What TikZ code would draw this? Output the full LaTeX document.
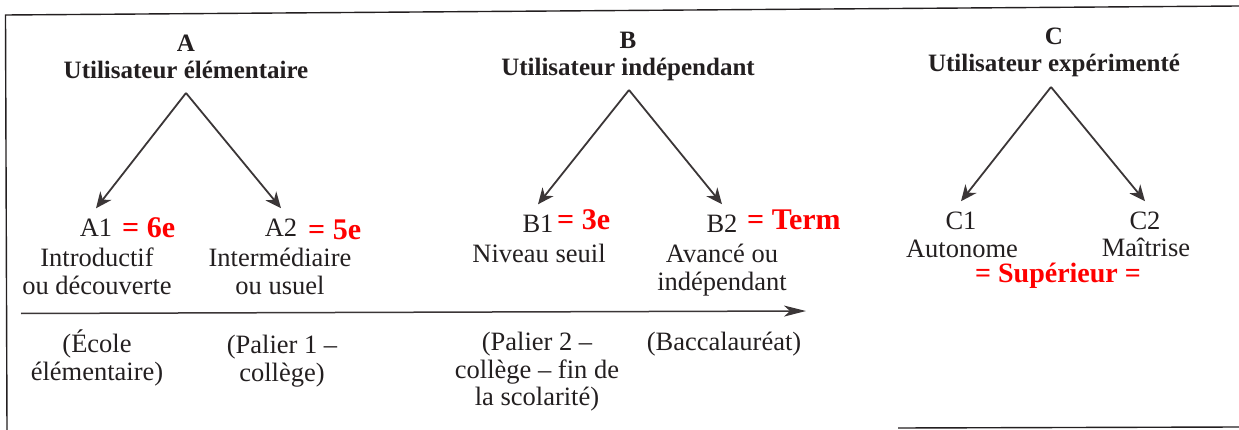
\documentclass[tikz,border=0pt]{standalone}
\usepackage{fontspec}
\setmainfont{Liberation Serif}
\usepackage{tikz}
\usetikzlibrary{arrows.meta}
\definecolor{ink}{HTML}{231F20}
\definecolor{stroke}{HTML}{3B3637}
\definecolor{hot}{HTML}{FF0000}
\tikzset{
  title/.style={font=\fontsize{25}{27}\selectfont\bfseries, text=ink, align=center, inner sep=0pt},
  tier/.style={font=\fontsize{26.5}{28}\selectfont, text=ink, inner sep=11pt},
  desc/.style={font=\fontsize{26.5}{27.5}\selectfont, text=ink, align=center, inner sep=0pt},
  grade/.style={font=\fontsize{30}{32}\selectfont\bfseries, text=hot, inner sep=0pt},
  branch/.style={-{Stealth[length=16pt,width=14pt,inset=5pt]}, line width=1.8pt, draw=stroke},
  timeline/.style={-{Stealth[length=22pt,width=11pt,inset=6pt]}, line width=1.5pt, draw=stroke},
  boxline/.style={draw=ink, line width=1.4pt}
}

\begin{document}
\begin{tikzpicture}[x=1pt,y=-1pt]
  \useasboundingbox (0,0) rectangle (1239,430);
  % frame
  \draw[boxline] (1239,6) -- (5.5,15) -- (7,430);
  \draw[boxline] (898,428) -- (1239,427);

  % three user groups
  \node[title,anchor=north] (tA) at (186,35) {A\\Utilisateur élémentaire};
  \node[title,anchor=north] (tB) at (628,32) {B\\Utilisateur indépendant};
  \node[title,anchor=north] (tC) at (1054,28) {C\\Utilisateur expérimenté};
  \coordinate (apA) at (186,93);
  \coordinate (apB) at (629,90);
  \coordinate (apC) at (1051,87);

  % levels
  \node[tier,anchor=base] (A1) at (96,237) {A1};
  \node[grade,anchor=base west] (gA1) at (122,238) {= 6e};
  \node[tier,anchor=base] (A2) at (281,237) {A2};
  \node[grade,anchor=base west] (gA2) at (308,240) {= 5e};
  \node[tier,anchor=base] (B1) at (538,233) {B1};
  \node[grade,anchor=base west] (gB1) at (557,230) {= 3e};
  \node[tier,anchor=base] (B2) at (722,233) {B2};
  \node[grade,anchor=base west] (gB2) at (747,230) {= Term};
  \node[tier,anchor=base] (C1) at (961,230) {C1};
  \node[tier,anchor=base] (C2) at (1145,230) {C2};

  \node[desc,anchor=north] (dA1) at (97,248) {Introductif\\ou découverte};
  \node[desc,anchor=north] (dA2) at (280,248) {Intermédiaire\\ou usuel};
  \node[desc,anchor=base] (dB1) at (539,262) {Niveau seuil};
  \node[desc,anchor=north] (dB2) at (722,244) {Avancé ou\\indépendant};
  \node[desc,anchor=base] (dC1) at (962,258) {Autonome};
  \node[desc,anchor=base] (dC2) at (1146,257) {Maîtrise};
  \node[grade,font=\fontsize{28}{30}\selectfont\bfseries,anchor=base] (gC) at (1058,283) {= Supérieur =};

  \draw[branch] (apA) -- (A1.north);
  \draw[branch] (apA) -- (A2.north);
  \draw[branch] (apB) -- (B1.north);
  \draw[branch] (apB) -- (B2.north);
  \draw[branch] (apC) -- (C1.north);
  \draw[branch] (apC) -- (C2.north);

  % school stages
  \coordinate (t0) at (21,313.5);
  \coordinate (t1) at (806,311);
  \draw[timeline] (t0) -- (t1);
  \node[desc,anchor=north] (nA1) at (97,330) {(École\\élémentaire)};
  \node[desc,anchor=north] (nA2) at (282,335) {(Palier 1 –\\collège)};
  \node[desc,anchor=north] (nB1) at (537,332) {(Palier 2 –\\collège – fin de\\la scolarité)};
  \node[desc,anchor=base] (nB2) at (724,350) {(Baccalauréat)};
\end{tikzpicture}
\end{document}
